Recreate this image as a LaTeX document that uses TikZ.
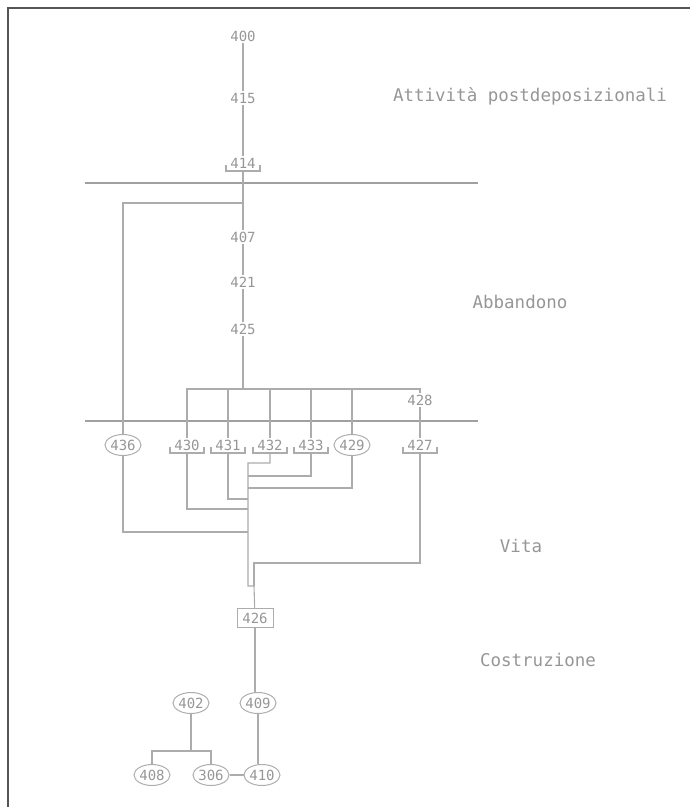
\documentclass[tikz,border=0pt]{standalone}
\usepackage{fontspec}
\setmonofont{DejaVu Sans Mono}
\usetikzlibrary{shapes.geometric}
\definecolor{lncol}{RGB}{172,172,172}
\definecolor{sepcol}{RGB}{160,160,160}
\definecolor{txtcol}{RGB}{150,150,150}
\definecolor{frm}{RGB}{85,85,85}
\newcommand\brnode[4]{%
  \node[num] (#1) at (#2,#3) {#4};
  \coordinate (#1b) at (#2,#3+8);
  \draw[ln] (#2-17,#3+2) -- (#2-17,#3+8) -- (#2+17,#3+8) -- (#2+17,#3+2);}
\begin{document}
\begin{tikzpicture}[x=1pt,y=-1pt,
  ln/.style={draw=lncol,line width=1.1pt},
  num/.style={font=\ttfamily\fontsize{14}{14}\selectfont,text=txtcol,inner sep=1.5pt},
  ell/.style={num,ellipse,draw=lncol,line width=1pt,minimum width=36pt,minimum height=21pt,inner sep=0pt},
  boxnode/.style={num,draw=lncol,line width=1pt,rectangle,minimum width=36pt,minimum height=19pt,inner sep=0pt},
  phase/.style={font=\ttfamily\fontsize{17.5}{17.5}\selectfont,text=txtcol,inner sep=0pt},
  sepline/.style={draw=sepcol,line width=1.5pt},
  frame/.style={draw=frm,line width=2.2pt}]
\useasboundingbox (0,0) rectangle (690,807);
\draw[frame] (8,807) -- (8,8) -- (690,8);

% separators
\draw[sepline] (85,183) -- (478,183);
\draw[sepline] (85,421) -- (478,421);

% phase labels
\node[phase] (lab1) at (530,96) {Attività postdeposizionali};
\node[phase] (lab2) at (520,302) {Abbandono};
\node[phase] (lab3) at (521,546) {Vita};
\node[phase] (lab4) at (538,660) {Costruzione};

% nodes
\node[num] (n400) at (243,36) {400};
\node[num] (n415) at (243,98) {415};
\brnode{n414}{243}{163}{414}
\node[num] (n407) at (243,237) {407};
\node[num] (n421) at (243,282) {421};
\node[num] (n425) at (243,329) {425};
\node[num] (n428) at (420,400) {428};
\node[ell] (n436) at (123,445) {436};
\brnode{n430}{187}{445}{430}
\brnode{n431}{228}{445}{431}
\brnode{n432}{270}{445}{432}
\brnode{n433}{311}{445}{433}
\node[ell] (n429) at (352,445) {429};
\brnode{n427}{420}{445}{427}
\node[boxnode] (n426) at (255,618) {426};
\node[ell] (n402) at (191,703) {402};
\node[ell] (n409) at (258,703) {409};
\node[ell] (n408) at (152,775) {408};
\node[ell] (n306) at (211,775) {306};
\node[ell] (n410) at (262,775) {410};

% junction coordinates
\coordinate (j1) at (243,203);
\coordinate (j2) at (243,389);
\coordinate (c1) at (248,463);
\coordinate (c2) at (248,586);
\coordinate (c3) at (254,586);
\coordinate (c4) at (254,563);
\coordinate (k436) at (248,532);
\coordinate (k430) at (248,509);
\coordinate (k431) at (248,499);
\coordinate (k429) at (248,488);
\coordinate (k433) at (248,476);
\coordinate (k402) at (191,751);

% connectors
\draw[ln] (n400) -- (n415);
\draw[ln] (n415) -- (n414);
\draw[ln] (n414b) -- (n407);
\draw[ln] (j1) -| (n436);
\draw[ln] (n407) -- (n421);
\draw[ln] (n421) -- (n425);
\draw[ln] (n425) -- (j2);
\draw[ln] (n430) |- (j2) -| (n428);
\draw[ln] (n431) -- (n431 |- j2);
\draw[ln] (n432) -- (n432 |- j2);
\draw[ln] (n433) -- (n433 |- j2);
\draw[ln] (n429) -- (n429 |- j2);
\draw[ln] (n428) -- (n427);

\draw[ln] (n432b) |- (c1) -- (c2) -- (c3) -- (n426);
\draw[ln] (n436) |- (k436);
\draw[ln] (n430b) |- (k430);
\draw[ln] (n431b) |- (k431);
\draw[ln] (n429) |- (k429);
\draw[ln] (n433b) |- (k433);
\draw[ln] (n427b) |- (c4) -- (c3);

\draw[ln] (n426.south) -- (n426.south |- n409.north);
\draw[ln] (n409) -- (n409 |- n410.north);
\draw[ln] (n402) -- (k402);
\draw[ln] (n408) |- (k402) -| (n306);
\draw[ln] (n306) -- (n410);
\end{tikzpicture}
\end{document}
